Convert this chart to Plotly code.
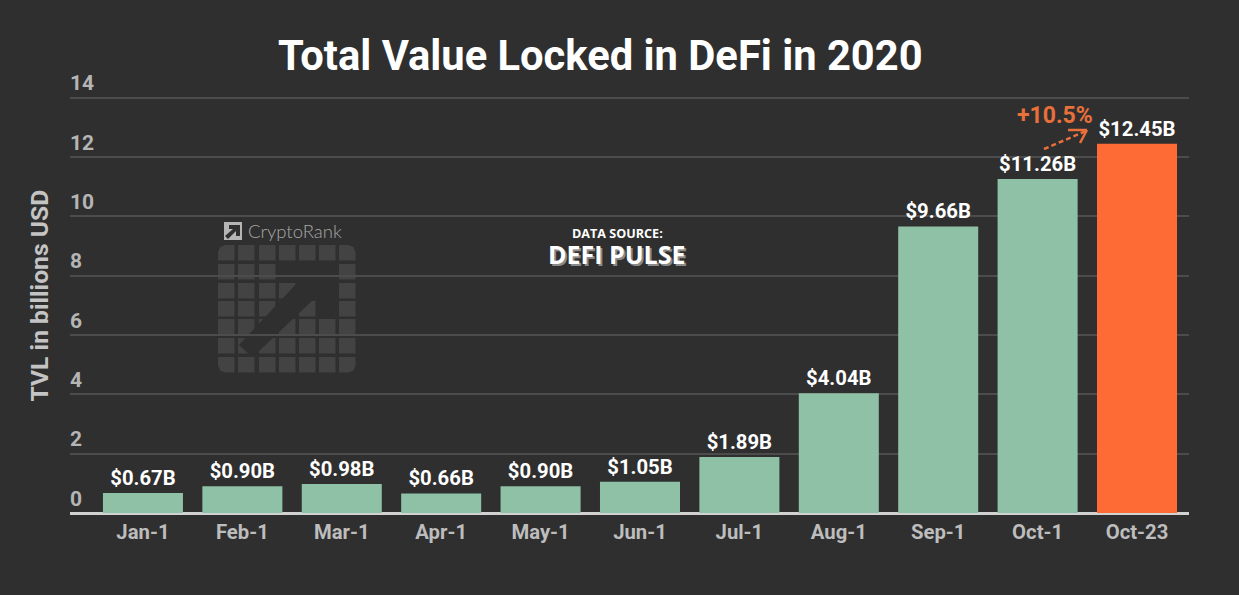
import plotly.graph_objects as go

categories = ["Jan-1", "Feb-1", "Mar-1", "Apr-1", "May-1", "Jun-1", "Jul-1", "Aug-1", "Sep-1", "Oct-1", "Oct-23"]
tvl = [0.67, 0.90, 0.98, 0.66, 0.90, 1.05, 1.89, 4.04, 9.66, 11.26, 12.45]
GREEN, ORANGE = "#8fc1a6", "#ff6b35"
bar_colors = [GREEN] * 10 + [ORANGE]
y_ticks = [0, 2, 4, 6, 8, 10, 12, 14]

W, H = 1239, 595
L, R, T, B = 70, 50, 68, 82
BG = "#2f2f2f"

def px(x):
    return (x - L) / (W - L - R)

def py(y):
    return 1 - (y - T) / (H - T - B)

def pline(x0, y0, x1, y1, color, width, dash="solid"):
    return dict(type="line", xref="paper", yref="paper", x0=px(x0), y0=py(y0), x1=px(x1), y1=py(y1),
                line=dict(color=color, width=width, dash=dash), layer="above")

def ppath(points, fill, layer="below"):
    d = "M " + " L ".join(f"{px(a):.5f},{py(b):.5f}" for a, b in points) + " Z"
    return dict(type="path", xref="paper", yref="paper", path=d, fillcolor=fill, line=dict(width=0), layer=layer)

def note(text, x, y, size, color, family="Roboto", xanchor="center", weight="normal", shadow=None):
    font = dict(family=family, size=size, color=color, weight=weight)
    if shadow:
        font["shadow"] = shadow
    return dict(text=text, xref="paper", yref="paper", x=px(x), y=py(y), showarrow=False,
                xanchor=xanchor, yanchor="middle", font=font)

def cell(cx, cy, w=16.5, h=15.5, tl=0, tr=0, br=0, bl=0):
    pts = []
    pts += [(cx, cy + tl), (cx + tl * 0.3, cy + tl * 0.3), (cx + tl, cy)] if tl else [(cx, cy)]
    pts += [(cx + w - tr, cy), (cx + w - tr * 0.3, cy + tr * 0.3), (cx + w, cy + tr)] if tr else [(cx + w, cy)]
    pts += [(cx + w, cy + h - br), (cx + w - br * 0.3, cy + h - br * 0.3), (cx + w - br, cy + h)] if br else [(cx + w, cy + h)]
    pts += [(cx + bl, cy + h), (cx + bl * 0.3, cy + h - bl * 0.3), (cx, cy + h - bl)] if bl else [(cx, cy + h)]
    return pts

shapes = []
# watermark grid
xs = [218, 238, 259, 279, 299, 319, 339]
ys = [245, 264, 283, 301, 319, 338, 357]
for j, cy in enumerate(ys):
    for i, cx in enumerate(xs):
        r = 7
        pts = cell(cx, cy,
                   tl=r if (i, j) == (0, 0) else 0, tr=r if (i, j) == (6, 0) else 0,
                   br=r if (i, j) == (6, 6) else 0, bl=r if (i, j) == (0, 6) else 0)
        shapes.append(ppath(pts, "#434343"))
# watermark arrow cut-out
shapes.append(ppath([(277, 263), (338, 263), (338, 318), (316, 318), (316, 297), (257, 353), (250, 355),
                     (239, 345), (298, 282), (277, 282)], BG))
# small logo
shapes.append(ppath([(224, 222), (242, 222), (242, 240), (224, 240)], "#b5b5b5"))
shapes.append(ppath([(229, 225), (240, 225), (240, 236), (236, 236), (236, 231), (228, 239), (225, 236), (233, 229), (229, 229)], BG))
# growth arrow
AC = "#e8703a"
shapes.append(pline(1044, 149, 1086, 131, AC, 2.5, "5px,3px"))
shapes.append(pline(1068, 130, 1087, 130, AC, 2.5))
shapes.append(pline(1080, 143, 1087, 130, AC, 2.5))

annotations = [
    note("Total Value Locked in DeFi in 2020", 600, 55, 41.7, "#ffffff", weight="bold"),
    note("CryptoRank", 295, 231, 18.5, "#a8a8a8", family="Lato", weight=300),
    note("DATA SOURCE:", 617, 233.5, 12.6, "#ffffff", family="Open Sans", weight="bold"),
    note("DEFI PULSE", 616.5, 254, 25, "#ffffff", family="Open Sans", weight="bold", shadow="2px 2px 0 #8a8a8a"),
    note("+10.5%", 1055, 116, 23, AC, weight="bold"),
]

fig = go.Figure(go.Bar(
    x=categories, y=tvl, marker=dict(color=bar_colors, line=dict(width=0)), width=0.805,
    text=[f"${v:.2f}B" for v in tvl], textposition="outside", cliponaxis=False,
    textfont=dict(family="Roboto", size=20.3, color="#ffffff", weight="bold"),
))
fig.update_layout(
    width=W, height=H, autosize=False, margin=dict(l=L, r=R, t=T, b=B),
    paper_bgcolor=BG, plot_bgcolor="rgba(0,0,0,0)", showlegend=False,
    shapes=shapes, annotations=annotations,
    xaxis=dict(type="category", categoryorder="array", categoryarray=categories, range=[-0.734, 10.523],
               showgrid=False, showline=False, zeroline=False, ticks="", ticklabelstandoff=5,
               tickfont=dict(family="Roboto", size=20.3, color="#bdbdbd", weight="bold")),
    yaxis=dict(range=[0, 15], tickvals=y_ticks, ticklabelposition="inside top", ticklabelstandoff=-3,
               showgrid=True, gridcolor="#4c4c4c", gridwidth=2,
               zeroline=True, zerolinecolor="#d2d2d2", zerolinewidth=3,
               showline=False, ticks="",
               tickfont=dict(family="Roboto", size=21, color="#b5b5b5", weight="bold"),
               title=None),
)
fig.add_annotation(text="TVL in billions USD", xref="paper", yref="paper", x=px(38.5), y=py(296),
                   textangle=-90, showarrow=False, xanchor="center", yanchor="middle",
                   font=dict(family="Roboto", size=24.7, color="#c4c4c4", weight="bold"))
fig.write_html("out.html", config={"displayModeBar": False},
               post_script="document.body.style.margin='0';document.body.style.background='%s';" % BG)
